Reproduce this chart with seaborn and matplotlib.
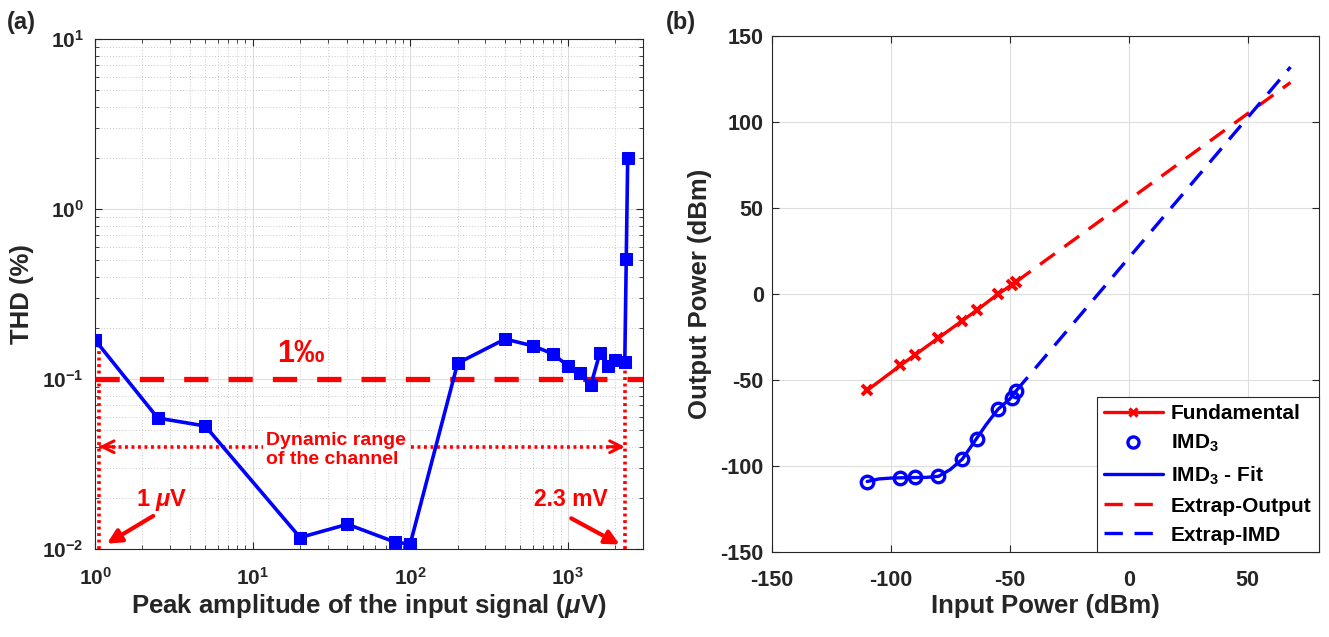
import numpy as np
import pandas as pd
import matplotlib
matplotlib.use("Agg")
import matplotlib.pyplot as plt
import seaborn as sns
from matplotlib.lines import Line2D
from matplotlib.ticker import LogLocator, NullFormatter, FixedLocator

# ---------------- data: panel (a) ----------------
amp_uV = [1, 2.5, 5, 20, 40, 80, 100, 200, 400, 600, 800, 1000, 1200,
          1400, 1600, 1800, 2000, 2300, 2350, 2400]
thd_pct = [0.17, 0.059, 0.053, 0.0117, 0.014, 0.011, 0.0107, 0.124, 0.172,
           0.157, 0.141, 0.12, 0.108, 0.092, 0.143, 0.12, 0.129, 0.126,
           0.51, 2.0]
thd_limit_pct = 0.1
dyn_range_uV = [1.06, 2300]
dyn_arrow_level = 0.04
a_xticks = [1, 10, 100, 1000]
a_xticklabels = [r"$\mathbf{10^{0}}$", r"$\mathbf{10^{1}}$", r"$\mathbf{10^{2}}$", r"$\mathbf{10^{3}}$"]
a_yticks = [0.01, 0.1, 1, 10]
a_yticklabels = [r"$\mathbf{10^{-2}}$", r"$\mathbf{10^{-1}}$", r"$\mathbf{10^{0}}$", r"$\mathbf{10^{1}}$"]

# ---------------- data: panel (b) ----------------
pin_dbm = [-110, -96, -90, -80, -70, -64, -55, -49, -47.5]
fund_dbm = [-56, -41.5, -35.5, -25.5, -15.5, -9.5, 0, 5.5, 7]
imd3_dbm = [-109, -107, -106.4, -105.8, -96, -84, -67, -60.5, -56.5]
fit_x = [-110, -105, -100, -95, -90, -85, -80, -75, -70, -65, -60, -55, -50, -47.5]
fit_y = [-109, -107.5, -107, -106.8, -106.7, -106.6, -106, -102, -96, -86, -76, -67, -61, -56.5]
extrap_x = [-47.5, 68]
extrap_out_y = [7, 123]
extrap_imd_y = [-56.5, 132]
b_xticks = [-150, -100, -50, 0, 50]
b_yticks = [-150, -100, -50, 0, 50, 100, 150]

# ---------------- style ----------------
sns.set_theme(style="ticks")
plt.rcParams["font.family"] = ["Liberation Sans", "DejaVu Sans"]
plt.rcParams["font.weight"] = "bold"
plt.rcParams["axes.unicode_minus"] = False
plt.rcParams["mathtext.fontset"] = "custom"
plt.rcParams["mathtext.rm"] = "Liberation Sans:bold"
plt.rcParams["mathtext.bf"] = "Liberation Sans:bold"
plt.rcParams["mathtext.it"] = "Liberation Sans:italic:bold"
plt.rcParams["axes.edgecolor"] = "#262626"
plt.rcParams["axes.linewidth"] = 0.8

TXT = "#262626"
GRID = "#dedede"
MINGRID = "#c9c9c9"
LBL = 18.5

fig = plt.figure(figsize=(13.29, 6.37), dpi=100)
axA = fig.add_axes([0.0715, 0.138, 0.4123, 0.8006])
axB = fig.add_axes([0.5809, 0.1334, 0.4116, 0.810])

# ---------------- panel (a) ----------------
axA.set_xscale("log")
axA.set_yscale("log")
df_a = pd.DataFrame({"amp": amp_uV, "thd": thd_pct})

axA.axhline(thd_limit_pct, color="red", lw=3.8, ls=(0, (4.6, 3.8)), zorder=3)
dot = (0, (0.8, 1.0))
# vertical dotted limits of the dynamic range
sns.lineplot(x=[dyn_range_uV[0]] * 2, y=[0.01, thd_pct[0]], ax=axA, color="red",
             lw=2.6, ls=dot, zorder=3, sort=False, estimator=None)
sns.lineplot(x=[dyn_range_uV[1]] * 2, y=[0.01, thd_pct[17]], ax=axA, color="red",
             lw=2.6, ls=dot, zorder=3, sort=False, estimator=None)
# horizontal dotted double arrow
sns.lineplot(x=dyn_range_uV, y=[dyn_arrow_level] * 2, ax=axA, color="red",
             lw=2.6, ls=dot, zorder=3, sort=False, estimator=None)
for end, nxt in [(dyn_range_uV[0], dyn_range_uV[0] * 1.25), (dyn_range_uV[1], dyn_range_uV[1] / 1.25)]:
    axA.annotate("", xy=(end, dyn_arrow_level), xytext=(nxt, dyn_arrow_level),
                 arrowprops=dict(arrowstyle="->,head_length=0.7,head_width=0.35",
                                 color="red", lw=2.2, shrinkA=0, shrinkB=0), zorder=3)

sns.lineplot(data=df_a, x="amp", y="thd", ax=axA, color="blue", lw=2.6,
             marker="s", markersize=8, markeredgecolor="blue", markerfacecolor="blue",
             sort=False, estimator=None, zorder=6)

axA.text(20.2, 0.14, "1‰", color="red", fontsize=22, fontweight="bold",
         ha="center", va="center", zorder=7)
axA.text(12.1, 0.0385, "Dynamic range\nof the channel", color="red", fontsize=14,
         fontweight="bold", ha="left", va="center", linespacing=1.15, zorder=4,
         bbox=dict(facecolor="white", edgecolor="none", pad=2))
axA.text(2.66, 0.0195, r"1 $\mu$V", color="red", fontsize=17, fontweight="bold",
         ha="center", va="center", zorder=7)
axA.annotate("", xy=(1.19, 0.01076), xytext=(2.34, 0.01567),
             arrowprops=dict(arrowstyle="-|>,head_length=0.7,head_width=0.35",
                             color="red", lw=3, shrinkA=0, shrinkB=0), zorder=7)
axA.text(1051, 0.0195, "2.3 mV", color="red", fontsize=16.5, fontweight="bold",
         ha="center", va="center", zorder=7)
axA.annotate("", xy=(2133, 0.01064), xytext=(1052, 0.01517),
             arrowprops=dict(arrowstyle="-|>,head_length=0.7,head_width=0.35",
                             color="red", lw=3, shrinkA=0, shrinkB=0), zorder=7)

axA.set_xlim(1, 3000)
axA.set_ylim(0.01, 10)
axA.xaxis.set_major_locator(FixedLocator(a_xticks))
axA.yaxis.set_major_locator(FixedLocator(a_yticks))
axA.set_xticklabels(a_xticklabels)
axA.set_yticklabels(a_yticklabels)
axA.xaxis.set_minor_locator(LogLocator(base=10, subs=np.arange(2, 10), numticks=20))
axA.yaxis.set_minor_locator(LogLocator(base=10, subs=np.arange(2, 10), numticks=20))
axA.xaxis.set_minor_formatter(NullFormatter())
axA.yaxis.set_minor_formatter(NullFormatter())
axA.grid(which="major", color=GRID, lw=0.8, ls="-", zorder=0)
axA.grid(which="minor", color=MINGRID, lw=0.7, ls=(0, (1, 2)), zorder=0)
axA.set_axisbelow(True)
axA.tick_params(which="both", direction="in", top=True, right=True, colors=TXT,
                labelsize=15)
axA.tick_params(axis="x", which="both", pad=13)
axA.tick_params(axis="y", which="both", pad=8)
axA.tick_params(which="major", length=5, width=0.8)
axA.tick_params(which="minor", length=3, width=0.6)
axA.set_xlabel(r"Peak amplitude of the input signal ($\mu$V)", fontsize=LBL,
               fontweight="bold", color=TXT, labelpad=2)
axA.set_ylabel("THD (%)", fontsize=LBL, fontweight="bold", color=TXT, labelpad=6)

# ---------------- panel (b) ----------------
sns.lineplot(x=extrap_x, y=extrap_out_y, ax=axB, color="red", lw=2.4,
             ls=(0, (5.5, 3.5)), zorder=3)
sns.lineplot(x=extrap_x, y=extrap_imd_y, ax=axB, color="blue", lw=2.4,
             ls=(0, (5.5, 3.5)), zorder=3)
sns.lineplot(x=fit_x, y=fit_y, ax=axB, color="blue", lw=2.4, zorder=4,
             sort=False, estimator=None)
sns.lineplot(x=pin_dbm, y=imd3_dbm, ax=axB, color="blue", ls="", marker="o",
             markersize=9, markerfacecolor="none", markeredgecolor="blue",
             markeredgewidth=2.4, sort=False, estimator=None, zorder=5)
sns.lineplot(x=pin_dbm, y=fund_dbm, ax=axB, color="red", lw=2.4, marker="x",
             markersize=7.5, markeredgewidth=2.8, markeredgecolor="red",
             sort=False, estimator=None, zorder=5)

axB.set_xlim(-150, 80)
axB.set_ylim(-150, 150)
axB.set_xticks(b_xticks)
axB.set_yticks(b_yticks)
axB.grid(which="major", color=GRID, lw=0.8, ls="-", zorder=0)
axB.set_axisbelow(True)
axB.tick_params(which="both", direction="in", top=True, right=True, colors=TXT,
                labelsize=15.5, length=5, width=0.8)
axB.tick_params(axis="x", pad=13)
axB.tick_params(axis="y", pad=6)
for lab in axB.get_xticklabels() + axB.get_yticklabels():
    lab.set_fontweight("bold")
axB.set_xlabel("Input Power (dBm)", fontsize=LBL, fontweight="bold", color=TXT, labelpad=2)
axB.set_ylabel("Output Power (dBm)", fontsize=LBL, fontweight="bold", color=TXT, labelpad=6)

handles = [
    Line2D([], [], color="red", lw=2.4, marker="x", markersize=6, markeredgewidth=2.4),
    Line2D([], [], color="blue", ls="", marker="o", markersize=8,
           markerfacecolor="none", markeredgewidth=2.4),
    Line2D([], [], color="blue", lw=2.4),
    Line2D([], [], color="red", lw=2.4, ls=(0, (5.5, 3.5))),
    Line2D([], [], color="blue", lw=2.4, ls=(0, (5.5, 3.5))),
]
labels = ["Fundamental", r"IMD$_\mathbf{3}$", r"IMD$_\mathbf{3}$ - Fit",
          "Extrap-Output", "Extrap-IMD"]
leg = axB.legend(handles, labels, loc="lower right", bbox_to_anchor=(1, 0),
                 borderaxespad=0, frameon=True, fancybox=False, framealpha=1,
                 edgecolor=TXT, prop={"weight": "bold", "size": 15},
                 handlelength=2.8, handletextpad=0.4, labelspacing=0.48,
                 borderpad=0.35)
leg.get_frame().set_linewidth(0.8)
for t in leg.get_texts():
    t.set_color("black")

for ax in (axA, axB):
    for s in ax.spines.values():
        s.set_color(TXT)
        s.set_linewidth(0.8)
        s.set_visible(True)
    for lab in ax.get_xticklabels() + ax.get_yticklabels():
        lab.set_color(TXT)

fig.text(0.016, 0.965, "(a)", fontsize=17, fontweight="bold", ha="center", va="center")
fig.text(0.512, 0.965, "(b)", fontsize=17, fontweight="bold", ha="center", va="center")

fig.savefig("out.png", dpi=100)
